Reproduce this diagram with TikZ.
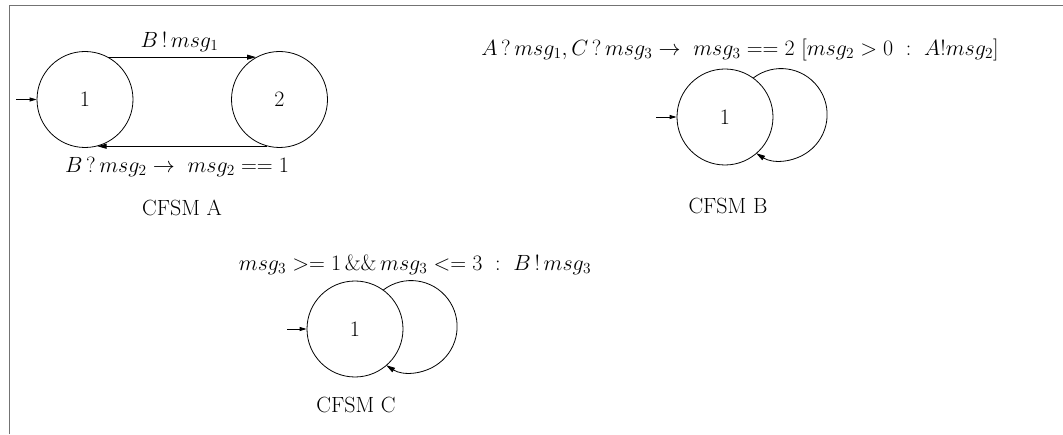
\RequirePackage{fix-cm}
\documentclass[tikz,border=0pt]{standalone}
\usetikzlibrary{arrows.meta}
\begin{document}
\begin{tikzpicture}[x=1pt,y=1pt,
  font=\fontsize{22}{26}\selectfont,
  state/.style={draw,circle,line width=0.8pt,minimum size=96pt,inner sep=0pt},
  trans/.style={line width=0.8pt,-{Triangle[length=9pt,width=5pt]}},
  init/.style={line width=0.8pt,-{Triangle[length=7pt,width=4pt]}},
  frameline/.style={draw=black!55,line width=1.6pt},
  lbl/.style={inner sep=0pt}]
\useasboundingbox (0,0) rectangle (1063,434);
% frame
\coordinate (fb) at (9.5,0);
\coordinate (fc) at (9.5,428.5);
\coordinate (fr) at (1063,428.5);
\draw[frameline] (fb) -- (fc) -- (fr);
% CFSM A
\node[state] (a1) at (85,334.5) {1};
\node[state] (a2) at (279.5,334.5) {2};
\coordinate (ia) at (16,334.5);
\draw[init] (ia) -- (a1);
\draw[trans] (a1.61) -- (a2.119);
\draw[trans] (a2.-105) -- (a1.-75);
\node[lbl] (la1) at (179.5,392) {$B\,!\,msg_1$};
\node[lbl] (la2) at (177,267) {$B\,?\,msg_2 \to\ msg_2 == 1$};
\node[lbl] (na) at (182,226) {CFSM A};
% CFSM B
\node[state] (b1) at (725,317) {1};
\coordinate (ib) at (656,317);
\draw[init] (ib) -- (b1);
\draw[trans] (b1.54) arc[start angle=127,end angle=-122.9,radius=46];
\node[lbl] (lb) at (740,384) {$A\,?\,msg_1, C\,?\,msg_3 \to\ msg_3 == 2\ [msg_2 > 0\ :\ A!msg_2]$};
\node[lbl] (nb) at (728,228) {CFSM B};
% CFSM C
\node[state] (c1) at (355,105) {1};
\coordinate (ic) at (287,105);
\draw[init] (ic) -- (c1);
\draw[trans] (c1.54) arc[start angle=127,end angle=-122.9,radius=46];
\node[lbl] (lc) at (415,169) {$msg_3 >= 1\,\&\&\,msg_3 <= 3\ :\ B\,!\,msg_3$};
\node[lbl] (nc) at (356,29) {CFSM C};
\end{tikzpicture}
\end{document}
